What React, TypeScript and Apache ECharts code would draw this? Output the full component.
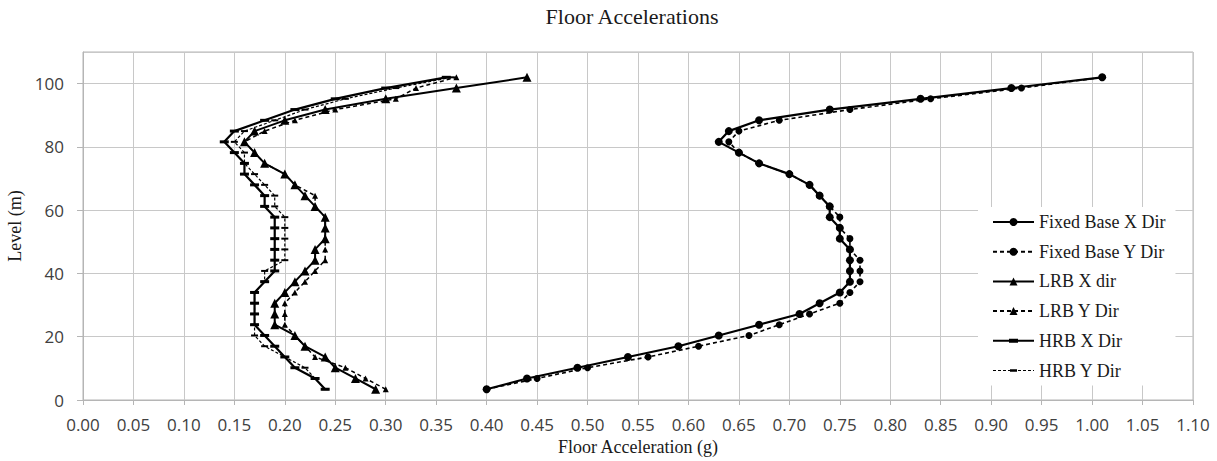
import React, { useEffect, useRef } from 'react';
import * as echarts from 'echarts';

const levels = [3.4, 6.8, 10.2, 13.6, 17, 20.4, 23.8, 27.2, 30.6, 34, 37.4, 40.8, 44.2, 47.6, 51, 54.4, 57.8, 61.2, 64.6, 68, 71.4, 74.8, 78.2, 81.6, 85, 88.4, 91.8, 95.2, 98.6, 102];

const fixedBaseX = [0.40, 0.44, 0.49, 0.54, 0.59, 0.63, 0.67, 0.71, 0.73, 0.75, 0.76, 0.76, 0.76, 0.76, 0.75, 0.75, 0.74, 0.74, 0.73, 0.72, 0.70, 0.67, 0.65, 0.63, 0.64, 0.67, 0.74, 0.83, 0.92, 1.01];
const fixedBaseY = [0.40, 0.45, 0.50, 0.56, 0.61, 0.66, 0.69, 0.72, 0.75, 0.76, 0.77, 0.77, 0.77, 0.76, 0.76, 0.75, 0.75, 0.74, 0.73, 0.72, 0.70, 0.67, 0.65, 0.64, 0.65, 0.69, 0.76, 0.84, 0.93, 1.01];
const lrbX = [0.29, 0.27, 0.25, 0.24, 0.22, 0.21, 0.19, 0.19, 0.19, 0.20, 0.21, 0.22, 0.23, 0.23, 0.24, 0.24, 0.24, 0.23, 0.22, 0.21, 0.20, 0.18, 0.17, 0.16, 0.17, 0.20, 0.24, 0.30, 0.37, 0.44];
const lrbY = [0.30, 0.28, 0.26, 0.23, 0.22, 0.21, 0.20, 0.20, 0.20, 0.21, 0.22, 0.23, 0.24, 0.24, 0.24, 0.24, 0.24, 0.23, 0.23, 0.21, 0.20, 0.18, 0.17, 0.16, 0.18, 0.21, 0.25, 0.31, 0.33, 0.37];
const hrbX = [0.24, 0.23, 0.21, 0.20, 0.19, 0.18, 0.17, 0.17, 0.17, 0.17, 0.18, 0.19, 0.19, 0.19, 0.19, 0.19, 0.19, 0.18, 0.18, 0.17, 0.16, 0.16, 0.15, 0.14, 0.15, 0.18, 0.21, 0.25, 0.30, 0.36];
const hrbY = [0.24, 0.23, 0.22, 0.20, 0.18, 0.17, 0.17, 0.17, 0.17, 0.17, 0.18, 0.18, 0.20, 0.20, 0.20, 0.20, 0.20, 0.19, 0.19, 0.18, 0.17, 0.16, 0.16, 0.15, 0.16, 0.19, 0.22, 0.26, 0.31, 0.365];

const seriesNames = ['Fixed Base X Dir', 'Fixed Base Y Dir', 'LRB X dir', 'LRB Y Dir', 'HRB X Dir', 'HRB Y Dir'];

const chartTitle = 'Floor Accelerations';
const xName = 'Floor Acceleration (g)';
const yName = 'Level (m)';

const SERIF = '"Liberation Serif", "Times New Roman", serif';
const SANS = '"Open Sans", "Noto Sans", sans-serif';

function dashedIconPath(marker: string) {
  let p = 'path://';
  for (let x = 0; x < 41; x += 5) {
    const w = Math.min(3, 41 - x);
    p += `M${x},4.5h${w}v1h-${w}z `;
  }
  return p + marker;
}

export default function App() {
  const ref = useRef<HTMLDivElement>(null);
  useEffect(() => {
    if (!ref.current) return;
    const chart = echarts.init(ref.current, null, { renderer: 'svg' });
    const mk = (xs: number[]) => xs.map((v, i) => [v, levels[i]]);
    const base = {
      type: 'line',
      showSymbol: true,
      showAllSymbol: true,
      silent: true,
      emphasis: { disabled: true },
      itemStyle: { color: '#000' },
      z: 3,
    };
    const hrbXIcon = 'path://M0,4H41V6H0Z M16,3H25V7H16Z';
    const hrbYIcon = dashedIconPath('M17,3.8h7v2.4h-7z');
    chart.setOption({
      animation: false,
      backgroundColor: '#fff',
      graphic: [
        {
          type: 'text',
          x: 632,
          y: 16,
          style: {
            text: chartTitle,
            fontFamily: SERIF,
            fontSize: 22,
            fill: '#1a1a1a',
            align: 'center',
            verticalAlign: 'middle',
            textAlign: 'center',
            textVerticalAlign: 'middle',
          },
        },
      ],
      grid: {
        left: 83,
        right: 24,
        top: 52,
        bottom: 61,
        show: true,
        borderColor: '#b5b5b5',
        borderWidth: 1,
        outerBoundsMode: 'none',
        containLabel: false,
      },
      legend: {
        orient: 'vertical',
        left: 978,
        top: 207,
        padding: [6, 10, 6, 14],
        backgroundColor: '#fff',
        itemWidth: 41,
        itemHeight: 10,
        itemGap: 11.7,
        selectedMode: false,
        textStyle: { fontFamily: SERIF, fontSize: 18, color: '#1a1a1a', lineHeight: 18 },
        data: [
          { name: seriesNames[0] },
          { name: seriesNames[1] },
          { name: seriesNames[2] },
          { name: seriesNames[3] },
          { name: seriesNames[4], icon: hrbXIcon },
          { name: seriesNames[5], icon: hrbYIcon },
        ],
      },
      xAxis: {
        type: 'value',
        min: 0,
        max: 1.1,
        interval: 0.05,
        name: xName,
        nameLocation: 'middle',
        nameGap: 37,
        nameTextStyle: { fontFamily: SERIF, fontSize: 18, color: '#1a1a1a' },
        axisLine: { show: true, lineStyle: { color: '#b5b5b5', width: 1 } },
        axisTick: { show: true, inside: false, length: 5, lineStyle: { color: '#b5b5b5' } },
        axisLabel: {
          margin: 16,
          fontFamily: SANS,
          fontSize: 17,
          color: '#404040',
          formatter: (v: number) => v.toFixed(2),
        },
        splitLine: { show: true, lineStyle: { color: '#c8c8c8', width: 1 } },
      },
      yAxis: {
        type: 'value',
        min: 0,
        max: 110,
        interval: 20,
        name: yName,
        nameLocation: 'middle',
        nameGap: 54,
        nameRotate: 90,
        nameTextStyle: { fontFamily: SERIF, fontSize: 18, color: '#1a1a1a' },
        axisLine: { show: true, lineStyle: { color: '#b5b5b5', width: 1 } },
        axisTick: { show: true, inside: false, length: 6, lineStyle: { color: '#b5b5b5' } },
        axisLabel: {
          margin: 19,
          fontFamily: SANS,
          fontSize: 17,
          color: '#404040',
          showMaxLabel: false,
        },
        splitLine: { show: true, lineStyle: { color: '#c8c8c8', width: 1 } },
      },
      series: [
        { ...base, name: seriesNames[0], data: mk(fixedBaseX), symbol: 'circle', symbolSize: 8, lineStyle: { color: '#000', width: 2.2 } },
        { ...base, name: seriesNames[1], data: mk(fixedBaseY), symbol: 'circle', symbolSize: 7, lineStyle: { color: '#000', width: 1.6, type: [4, 3] } },
        { ...base, name: seriesNames[2], data: mk(lrbX), symbol: 'triangle', symbolSize: 9, lineStyle: { color: '#000', width: 2 } },
        { ...base, name: seriesNames[3], data: mk(lrbY), symbol: 'triangle', symbolSize: 6, lineStyle: { color: '#000', width: 1.5, type: [4, 3] } },
        { ...base, name: seriesNames[4], data: mk(hrbX), symbol: 'rect', symbolSize: [9, 3], lineStyle: { color: '#000', width: 2.2 } },
        { ...base, name: seriesNames[5], data: mk(hrbY), symbol: 'rect', symbolSize: [7, 2], lineStyle: { color: '#000', width: 1.2, type: [3, 2] } },
      ],
    });
    return () => chart.dispose();
  }, []);
  return (
    <div
      ref={ref}
      style={{ position: 'absolute', left: 0, top: 0, width: 1217, height: 461, background: '#fff' }}
    />
  );
}
